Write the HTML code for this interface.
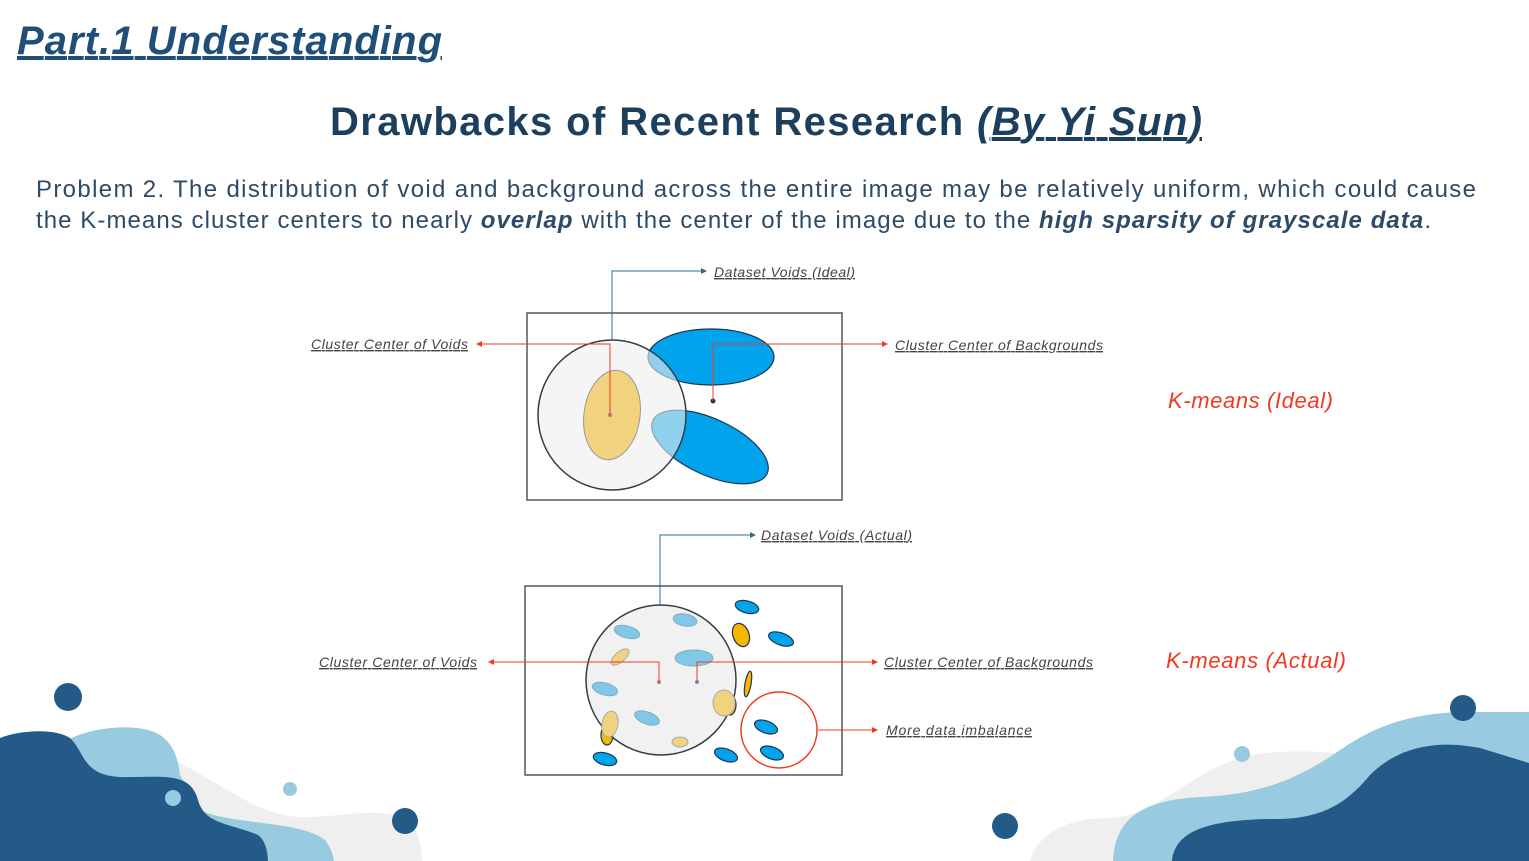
<!DOCTYPE html>
<html><head><meta charset="utf-8"><style>
body{margin:0;background:#fff;}
svg{display:block;font-family:"Liberation Sans",sans-serif;}
.lbl{font-size:14px;font-style:italic;fill:#444;text-decoration:underline;}
.km{font-size:22px;font-style:italic;fill:#f03a22;}
</style></head><body>
<svg width="1529" height="861" viewBox="0 0 1529 861">
<defs>
<marker id="ar" markerWidth="6" markerHeight="6" refX="5" refY="3" orient="auto"><path d="M0,0L6,3L0,6z" fill="#f03a22"/></marker>
<marker id="ab" markerWidth="6" markerHeight="6" refX="5" refY="3" orient="auto"><path d="M0,0L6,3L0,6z" fill="#2f6d8e"/></marker>
</defs>
<g>
<path d="M175,760 C230,790 260,815 300,817 C340,818 380,805 410,820 C420,835 422,850 422,861 L160,861Z" fill="#efefef"/>
<path d="M68,740 C90,727 140,722 160,735 C175,745 178,760 180,775 L200,810 C230,825 300,820 325,840 C333,850 334,861 334,861 L0,861 L0,740Z" fill="#98cbe0"/>
<path d="M0,738 C20,730 55,728 70,738 C85,752 82,775 120,777 C160,778 190,770 198,800 C205,825 230,823 258,835 C268,842 268,861 268,861 L0,861Z" fill="#235a87"/>
<circle cx="68" cy="697" r="14" fill="#235a87"/>
<circle cx="173" cy="798" r="8" fill="#98cbe0"/>
<circle cx="290" cy="789" r="7" fill="#98cbe0"/>
<circle cx="405" cy="821" r="13" fill="#235a87"/>
</g>
<g>
<path d="M1030,861 C1040,830 1070,818 1110,818 C1160,815 1190,770 1250,755 C1300,748 1340,752 1380,760 L1380,861Z" fill="#efefef"/>
<path d="M1113,861 C1115,820 1140,800 1200,797 C1250,795 1290,785 1340,750 C1380,722 1420,712 1470,712 L1529,712 L1529,861Z" fill="#98cbe0"/>
<path d="M1172,861 C1175,830 1210,820 1270,819 C1320,820 1345,805 1370,775 C1400,745 1440,740 1480,748 L1529,763 L1529,861Z" fill="#235a87"/>
<circle cx="1463" cy="708" r="13" fill="#235a87"/>
<circle cx="1242" cy="754" r="8" fill="#98cbe0"/>
<circle cx="1005" cy="826" r="13" fill="#235a87"/>
</g>
<text x="17" y="54" textLength="425" style="font-size:40px;font-weight:bold;font-style:italic;fill:#1f4e79;text-decoration:underline;">Part.1 Understanding</text>
<text x="330" y="135" textLength="872" style="font-size:40px;font-weight:bold;fill:#1d3f5e;">Drawbacks of Recent Research <tspan style="font-style:italic;text-decoration:underline;">(By Yi Sun)</tspan></text>
<text x="36" y="197" style="font-size:24px;fill:#2d4a66;" textLength="1440">Problem 2. The distribution of void and background across the entire image may be relatively uniform, which could cause</text>
<text x="36" y="228" style="font-size:24px;fill:#2d4a66;" textLength="1395">the K-means cluster centers to nearly <tspan style="font-weight:bold;font-style:italic;">overlap</tspan> with the center of the image due to the <tspan style="font-weight:bold;font-style:italic;">high sparsity of grayscale data</tspan>.</text>
<g>
<rect x="527" y="313" width="315" height="187" fill="#fff" stroke="#4a5a66" stroke-width="1.5"/>
<ellipse cx="711" cy="357" rx="63" ry="28" fill="#00a3ec" stroke="#1d3650" stroke-width="1.2"/>
<ellipse cx="710" cy="447" rx="63" ry="28" transform="rotate(25 710 447)" fill="#00a3ec" stroke="#1d3650" stroke-width="1.2"/>
<ellipse cx="612" cy="415" rx="74" ry="75" fill="#eeeeee" fill-opacity="0.6" stroke="#2d3e4a" stroke-width="1.5"/>
<ellipse cx="612" cy="415" rx="28" ry="45" transform="rotate(8 612 415)" fill="#f0d27f" stroke="#999" stroke-width="1"/>
<circle cx="713" cy="401" r="2.5" fill="#1d3650"/>
<circle cx="610" cy="415" r="2" fill="#b08080"/>
<polyline points="610,415 610,344 477,344" fill="none" stroke="#f03a22" stroke-width="1" marker-end="url(#ar)"/>
<polyline points="713,401 713,344 887,344" fill="none" stroke="#f03a22" stroke-width="1" marker-end="url(#ar)"/>
<polyline points="612,341 612,271 706,271" fill="none" stroke="#2f6d8e" stroke-width="1" marker-end="url(#ab)"/>
</g>
<text x="714" y="277" textLength="141" class="lbl">Dataset Voids (Ideal)</text>
<text x="311" y="349" textLength="157" class="lbl">Cluster Center of Voids</text>
<text x="895" y="350" textLength="208" class="lbl">Cluster Center of Backgrounds</text>
<text x="1168" y="408" textLength="165" class="km">K-means (Ideal)</text>
<g>
<rect x="525" y="586" width="317" height="189" fill="#fff" stroke="#4a5a66" stroke-width="1.5"/>
<g fill="#00a3ec" stroke="#1d3650" stroke-width="1.2">
<ellipse cx="747" cy="607" rx="12" ry="6" transform="rotate(15 747 607)"/>
<ellipse cx="781" cy="639" rx="13" ry="6" transform="rotate(20 781 639)"/>
<ellipse cx="605" cy="759" rx="12" ry="6" transform="rotate(15 605 759)"/>
<ellipse cx="726" cy="755" rx="12" ry="6" transform="rotate(20 726 755)"/>
<ellipse cx="766" cy="727" rx="12" ry="6" transform="rotate(20 766 727)"/>
<ellipse cx="772" cy="753" rx="12" ry="6" transform="rotate(20 772 753)"/>
</g>
<g fill="#f5b800" stroke="#1d3650" stroke-width="1.2">
<ellipse cx="741" cy="635" rx="8" ry="12" transform="rotate(-20 741 635)"/>
<ellipse cx="748" cy="684" rx="3" ry="13" transform="rotate(10 748 684)"/>
<ellipse cx="730" cy="705" rx="6" ry="10"/>
<ellipse cx="607" cy="735" rx="6" ry="10"/>
</g>
<ellipse cx="661" cy="680" rx="75" ry="75" fill="#eeeeee" fill-opacity="0.85" stroke="#2d3e4a" stroke-width="1.5"/>
<g fill="#7fc8ea" stroke="#8ab" stroke-width="1">
<ellipse cx="627" cy="632" rx="13" ry="6" transform="rotate(15 627 632)"/>
<ellipse cx="685" cy="620" rx="12" ry="6" transform="rotate(10 685 620)"/>
<ellipse cx="694" cy="658" rx="19" ry="8"/>
<ellipse cx="605" cy="689" rx="13" ry="6" transform="rotate(15 605 689)"/>
<ellipse cx="647" cy="718" rx="13" ry="6" transform="rotate(20 647 718)"/>
</g>
<g fill="#f0d27f" stroke="#aaa" stroke-width="1">
<ellipse cx="620" cy="657" rx="5" ry="11" transform="rotate(50 620 657)"/>
<ellipse cx="724" cy="703" rx="11" ry="13"/>
<ellipse cx="610" cy="724" rx="8" ry="13" transform="rotate(10 610 724)"/>
<ellipse cx="680" cy="742" rx="8" ry="5"/>
</g>
<circle cx="779" cy="730" r="38" fill="none" stroke="#f03a22" stroke-width="1.5"/>
<circle cx="659" cy="682" r="2" fill="#b08080"/>
<circle cx="697" cy="682" r="2" fill="#8090a0"/>
<polyline points="659,682 659,662 489,662" fill="none" stroke="#f03a22" stroke-width="1" marker-end="url(#ar)"/>
<polyline points="697,682 697,662 877,662" fill="none" stroke="#f03a22" stroke-width="1" marker-end="url(#ar)"/>
<polyline points="660,606 660,535 755,535" fill="none" stroke="#2f6d8e" stroke-width="1" marker-end="url(#ab)"/>
<line x1="818" y1="730" x2="877" y2="730" stroke="#f03a22" stroke-width="1" marker-end="url(#ar)"/>
</g>
<text x="761" y="540" textLength="151" class="lbl">Dataset Voids (Actual)</text>
<text x="319" y="667" textLength="158" class="lbl">Cluster Center of Voids</text>
<text x="884" y="667" textLength="209" class="lbl">Cluster Center of Backgrounds</text>
<text x="886" y="735" textLength="146" class="lbl">More data imbalance</text>
<text x="1166" y="668" textLength="180" class="km">K-means (Actual)</text>
</svg>
</body></html>
